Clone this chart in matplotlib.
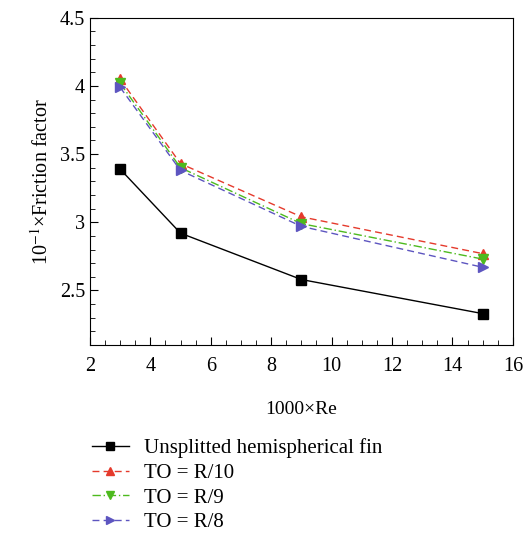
import matplotlib
matplotlib.use("Agg")
import matplotlib.pyplot as plt
from matplotlib.ticker import MultipleLocator

plt.rcParams['font.family'] = ['Liberation Serif', 'DejaVu Serif']
plt.rcParams['mathtext.fontset'] = 'stix'

re_k = [3, 5, 9, 15]
unsplit = [3.39, 2.92, 2.58, 2.33]
to_r10 = [4.05, 3.43, 3.04, 2.77]
to_r9 = [4.02, 3.40, 2.99, 2.73]
to_r8 = [3.99, 3.38, 2.97, 2.67]

fig = plt.figure(figsize=(5.32, 5.39), dpi=100)
ax = fig.add_axes([0.169, 0.36, 0.795, 0.607])

ax.plot(re_k, unsplit, color='black', lw=1, marker='s', ms=7, label='Unsplitted hemispherical fin')
ax.plot(re_k, to_r10, color='#e53a2c', lw=1, ls=(0, (5, 3)), marker='^', ms=7, label='TO = R/10')
ax.plot(re_k, to_r9, color='#4dba1e', lw=1, ls=(0, (6, 2, 1, 2)), marker='v', ms=7, label='TO = R/9')
ax.plot(re_k, to_r8, color='#5d55c0', lw=1, ls=(0, (5, 3)), marker='>', ms=7, label='TO = R/8')

ax.set_xlim(2, 16)
ax.set_ylim(2.1, 4.5)
ax.xaxis.set_major_locator(MultipleLocator(2))
ax.xaxis.set_minor_locator(MultipleLocator(0.5))
ax.yaxis.set_minor_locator(MultipleLocator(0.1))
ax.set_yticks([2.5, 3, 3.5, 4, 4.5])
ax.set_yticklabels(['2.5', '3', '3.5', '4', '4.5'])
ax.tick_params(which='both', direction='in', labelsize=14.5)
ax.tick_params(axis='x', which='major', pad=9)
ax.tick_params(which='major', length=6)
ax.tick_params(which='minor', length=3.5)

ax.set_xlabel('1000×Re', fontsize=14, labelpad=18)
ax.set_ylabel(r'10$^{-1}$×Friction factor', fontsize=14.5, labelpad=5)

ax.legend(loc='upper left', bbox_to_anchor=(0.004, -0.285), frameon=False,
          fontsize=15, handlelength=1.8, handletextpad=0.7, labelspacing=0.25,
          markerscale=0.8, borderaxespad=0, borderpad=0)

fig.savefig('out.png', dpi=100)
